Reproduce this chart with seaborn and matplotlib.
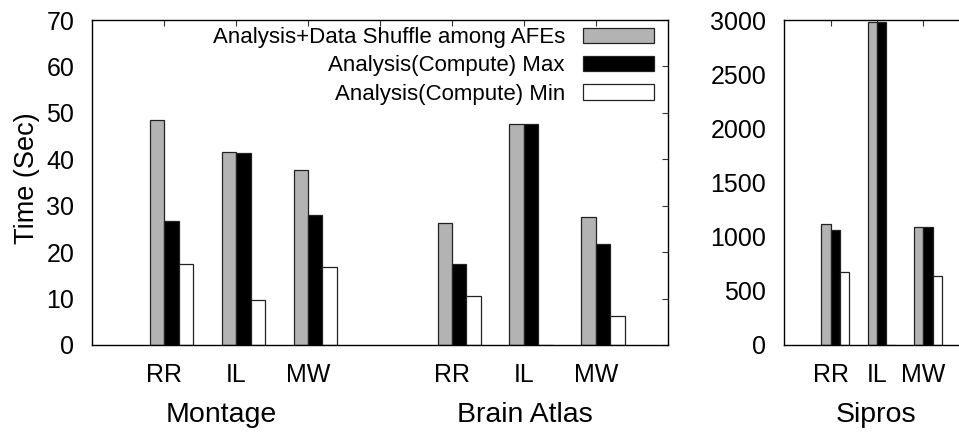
import matplotlib
matplotlib.use("Agg")
import matplotlib.pyplot as plt
from matplotlib.patches import Patch
import seaborn as sns
import pandas as pd
import numpy as np

sns.set_theme(style="white")
plt.rcParams['font.family'] = ['Liberation Sans', 'DejaVu Sans']
plt.rcParams['text.color'] = 'black'
plt.rcParams['xtick.color'] = 'black'
plt.rcParams['ytick.color'] = 'black'
plt.rcParams['axes.labelcolor'] = 'black'

series = ["Analysis+Data Shuffle among AFEs", "Analysis(Compute) Max", "Analysis(Compute) Min"]
colors = ["#b3b3b3", "#000000", "#ffffff"]

methods = ["RR", "IL", "MW"]
montage_shuffle = [48.4, 41.6, 37.8]
montage_max = [26.7, 41.4, 27.9]
montage_min = [17.5, 9.6, 16.7]
brain_shuffle = [26.3, 47.7, 27.6]
brain_max = [17.5, 47.6, 21.7]
brain_min = [10.6, 0.0, 6.3]
sipros_shuffle = [1114, 2978, 1086]
sipros_max = [1062, 2978, 1086]
sipros_min = [677, 0, 634]

left_pos = [0, 1, 2, 4, 5, 6]
sipros_pos = [0, 1, 2]


def make_df(positions, groups):
    rows = []
    for s, vals in zip(series, groups):
        for p, v in zip(positions, vals):
            rows.append({"x": p + 0.1, "series": s, "value": v})
    return pd.DataFrame(rows)


df_left = make_df(left_pos, [montage_shuffle + brain_shuffle,
                             montage_max + brain_max,
                             montage_min + brain_min])
df_sip = make_df(sipros_pos, [sipros_shuffle, sipros_max, sipros_min])

W, H = 959, 432
fig = plt.figure(figsize=(W / 100, H / 100), dpi=100)
ax1 = fig.add_axes([92.3 / W, 1 - 345 / H, (667.7 - 92.3) / W, 325 / H])
ax2 = fig.add_axes([784.3 / W, 1 - 345 / H, (W - 784.3) / W, 325 / H])

pal = dict(zip(series, colors))
for ax, df in [(ax1, df_left), (ax2, df_sip)]:
    sns.barplot(data=df, x="x", y="value", hue="series", hue_order=series,
                palette=pal, native_scale=True, width=0.6, dodge=True,
                edgecolor="#222222", linewidth=0.9, saturation=1,
                legend=False, ax=ax, errorbar=None)
    ax.set_xlabel("")
    ax.set_ylabel("")
    for sp in ax.spines.values():
        sp.set_color("black")
        sp.set_linewidth(1.0)

tick_fs = 18
ax1.set_xlim(-1, 7)
ax1.set_ylim(0, 70)
ax1.set_yticks(np.arange(0, 71, 10))
ax1.set_xticks([0, 1, 2, 3, 4, 5, 6])
ax1.set_xticklabels(methods + [""] + methods)
ax1.tick_params(axis="both", direction="in", length=4, width=0.8, color="#333333",
                labelcolor="black", top=True, right=True, labelsize=tick_fs)
ax1.tick_params(axis="x", pad=13)
ax1.tick_params(axis="y", pad=13)

ax2.set_xlim(-1, (W - 830.7) / 46.3)
ax2.set_ylim(0, 3000)
ax2.set_yticks(np.arange(0, 3001, 500))
ax2.set_xticks(sipros_pos)
ax2.set_xticklabels(methods)
ax2.spines["right"].set_visible(False)
ax2.tick_params(axis="both", direction="in", length=4, width=0.8, color="#333333",
                labelcolor="black", top=True, right=False, labelsize=tick_fs)
ax2.tick_params(axis="x", pad=13)
ax2.tick_params(axis="y", pad=13)

handles = [Patch(facecolor=c, edgecolor="#222222", linewidth=0.9) for c in colors]
ax1.legend(handles, series, loc="upper right", bbox_to_anchor=(0.9757, 0.978),
           frameon=False, markerfirst=False, fontsize=16, handlelength=3.2,
           handleheight=0.7, handletextpad=0.8, labelspacing=0.33,
           borderpad=0, borderaxespad=0)

grp_fs = 20.5
ytxt = 1 - 421.7 / H
fig.text(221.7 / W, ytxt, "Montage", ha="center", va="baseline", fontsize=grp_fs)
fig.text(524.5 / W, ytxt, "Brain Atlas", ha="center", va="baseline", fontsize=grp_fs)
fig.text(876.0 / W, ytxt, "Sipros", ha="center", va="baseline", fontsize=grp_fs)
fig.text(27.5 / W, 1 - 178 / H, "Time (Sec)", rotation=90, ha="center", va="center",
         fontsize=19.5)

fig.savefig("out.png", dpi=100)
